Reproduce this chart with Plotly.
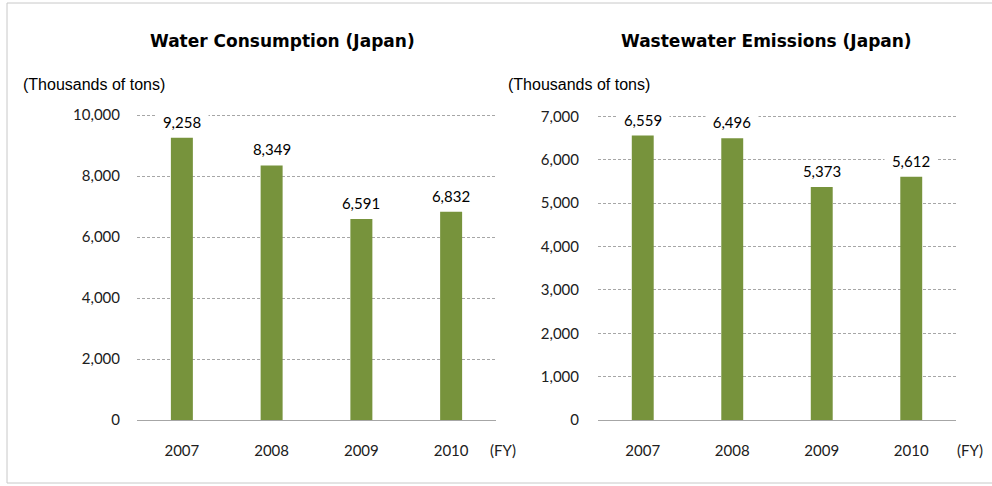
import plotly.graph_objects as go

W, H = 992, 486

years = ["2007", "2008", "2009", "2010"]
water = [9258, 8349, 6591, 6832]
wastewater = [6559, 6496, 5373, 5612]

titles = ["Water Consumption (Japan)", "Wastewater Emissions (Japan)"]
unit_label = "(Thousands of tons)"
fy_label = "(FY)"

left_ticks = [0, 2000, 4000, 6000, 8000, 10000]
right_ticks = [0, 1000, 2000, 3000, 4000, 5000, 6000, 7000]

BAR = "#77933C"
GRID = "#a6a6a6"
TICKFONT = dict(family="Lato, Calibri, sans-serif", size=15, color="#202020")

pos = list(range(len(years)))

def px(x):
    return x / W

def py(y):
    return (H - y) / H

fig = go.Figure()

fig.add_trace(go.Bar(x=pos, y=water, marker=dict(color=BAR, line=dict(width=0)),
                     xaxis="x", yaxis="y", showlegend=False,
                     customdata=years, hovertemplate="%{customdata}: %{y:,}<extra></extra>"))
fig.add_trace(go.Bar(x=pos, y=wastewater, marker=dict(color=BAR, line=dict(width=0)),
                     xaxis="x2", yaxis="y2", showlegend=False,
                     customdata=years, hovertemplate="%{customdata}: %{y:,}<extra></extra>"))

common_x = dict(type="linear", range=[-0.5, len(years) - 0.5], tickmode="array",
                tickvals=pos, ticktext=years,
                showgrid=False, zeroline=False, showline=True, linecolor=GRID, linewidth=1,
                ticks="outside", ticklen=17, tickcolor="rgba(0,0,0,0)",
                tickfont=TICKFONT, fixedrange=True, automargin=False)
common_y = dict(type="linear", showgrid=True, gridcolor=GRID, griddash="3px,2px", gridwidth=1,
                zeroline=False, showline=False, ticks="outside", tickcolor="rgba(0,0,0,0)",
                tickfont=TICKFONT, tickformat=",d", fixedrange=True, automargin=False)

# pixel scale: left 0.0305 px/unit, right 0.0434 px/unit; pad top so edge gridline shows
fig.update_layout(
    width=W, height=H, autosize=False,
    margin=dict(l=0, r=0, t=0, b=0, pad=0),
    paper_bgcolor="white", plot_bgcolor="white",
    bargap=0.755,
    xaxis=dict(domain=[px(137), px(496)], anchor="y", **common_x),
    yaxis=dict(domain=[py(420), py(113.5)], range=[0, 10050], tickvals=left_ticks,
               anchor="x", ticklen=13, **common_y),
    xaxis2=dict(domain=[px(598), px(956)], anchor="y2", **common_x),
    yaxis2=dict(domain=[py(420), py(115.2)], range=[0, 7030], tickvals=right_ticks,
                anchor="x2", ticklen=15, **common_y),
)

annotations = []
# value labels
for xa, ya, vals in (("x", "y", water), ("x2", "y2", wastewater)):
    for p, v in zip(pos, vals):
        annotations.append(dict(x=p, y=v, xref=xa, yref=ya, text=f"{v:,}",
                                showarrow=False, xanchor="center", yanchor="middle", yshift=16,
                                bgcolor="white", borderpad=0, width=52, height=20,
                                font=dict(family="Lato, Calibri, sans-serif", size=15, color="#000000")))

# titles
for xc, t in ((282, titles[0]), (766, titles[1])):
    annotations.append(dict(x=px(xc), y=py(41), xref="paper", yref="paper", text="<b>" + t + "</b>",
                            showarrow=False, xanchor="center", yanchor="middle",
                            font=dict(family="DejaVu Sans, Verdana, sans-serif", size=17, color="#000000")))
# units
for xl in (21, 506):
    annotations.append(dict(x=px(xl), y=py(84), xref="paper", yref="paper", text=unit_label,
                            showarrow=False, xanchor="left", yanchor="middle",
                            font=dict(family="Liberation Sans, Arial, sans-serif", size=16, color="#000000")))
# FY
for xc in (503, 970):
    annotations.append(dict(x=px(xc), y=py(450), xref="paper", yref="paper", text=fy_label,
                            showarrow=False, xanchor="center", yanchor="middle",
                            font=dict(family="Lato, Calibri, sans-serif", size=15, color="#202020")))

fig.update_layout(annotations=annotations)

# outer frame
fig.add_shape(type="rect", xref="paper", yref="paper",
              x0=px(7), x1=px(1000), y0=py(483), y1=py(3),
              line=dict(color="#c8c8c8", width=1), fillcolor="rgba(0,0,0,0)", layer="below")

fig.write_html("out.html", config={"displayModeBar": False},
               post_script="document.body.style.margin='0';")
